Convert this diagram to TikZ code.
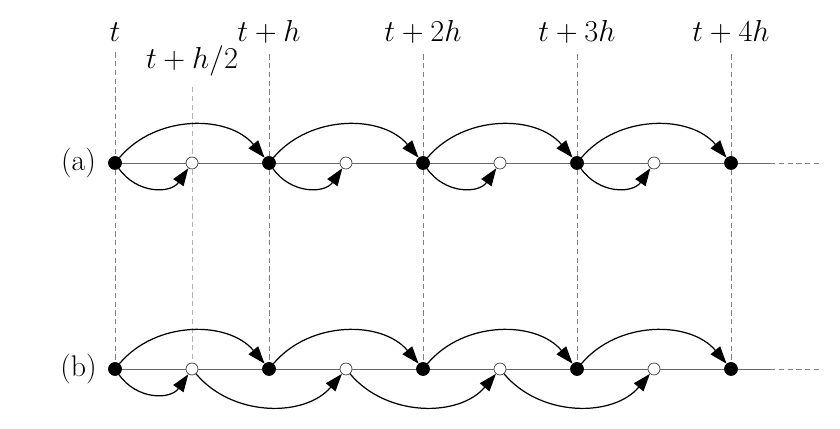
\documentclass[tikz,border=0pt]{standalone}
\usetikzlibrary{arrows.meta}

\begin{document}
\begin{tikzpicture}[
    point/.style={circle, minimum size=2.6mm, inner sep=0},
    full/.style={point, draw=black, fill=black},
    half/.style={point, draw=black!75, fill=white, minimum size=2.4mm, line width=0.4pt},
    time/.style={font=\fontsize{16}{18}\selectfont, inner sep=0.2cm, anchor=base},
    rowlabel/.style={font=\fontsize{17}{19}\selectfont},
    timeline/.style={draw=black!60, line width=0.5pt},
    guide/.style={draw=black!50, dash pattern=on 3pt off 2pt, line width=0.5pt},
    guideh/.style={guide, draw=black!30},
    arrow/.style={line width=0.7pt, -{Triangle[length=10pt,width=7pt]}},
    jump/.style={arrow, bend left=50},
    halfjump/.style={arrow, bend right=55, looseness=1.15},
    lowjump/.style={arrow, bend right=50}
  ]
  \useasboundingbox (0,0) rectangle (16.8,8.58);

  % times
  \node[time] (l0) at (2.30,7.74) {$t$};
  \node[time] (lh) at (3.84,7.20) {$t + h/2$};
  \node[time] (l1) at (5.38,7.74) {$t + h$};
  \node[time] (l2) at (8.46,7.74) {$t + 2h$};
  \node[time] (l3) at (11.54,7.74) {$t + 3h$};
  \node[time] (l4) at (14.62,7.74) {$t + 4h$};

  % row (a)
  \node[rowlabel] (la) at (1.57,5.32) {(a)};
  \node[full] (a0) at (2.30,5.32) {};
  \node[half] (ah0) at (3.84,5.32) {};
  \node[full] (a1) at (5.38,5.32) {};
  \node[half] (ah1) at (6.92,5.32) {};
  \node[full] (a2) at (8.46,5.32) {};
  \node[half] (ah2) at (10.00,5.32) {};
  \node[full] (a3) at (11.54,5.32) {};
  \node[half] (ah3) at (13.08,5.32) {};
  \node[full] (a4) at (14.62,5.32) {};
  \coordinate (aend) at (15.40,5.32);
  \coordinate (aout) at (16.40,5.32);

  % row (b)
  \node[rowlabel] (lb) at (1.57,1.20) {(b)};
  \node[full] (b0) at (2.30,1.20) {};
  \node[half] (bh0) at (3.84,1.20) {};
  \node[full] (b1) at (5.38,1.20) {};
  \node[half] (bh1) at (6.92,1.20) {};
  \node[full] (b2) at (8.46,1.20) {};
  \node[half] (bh2) at (10.00,1.20) {};
  \node[full] (b3) at (11.54,1.20) {};
  \node[half] (bh3) at (13.08,1.20) {};
  \node[full] (b4) at (14.62,1.20) {};
  \coordinate (bend) at (15.40,1.20);
  \coordinate (bout) at (16.40,1.20);

  % guides
  \draw[guide] (l0) -- (a0) -- (b0);
  \draw[guideh] (lh) -- (ah0) -- (bh0);
  \draw[guide] (l1) -- (a1) -- (b1);
  \draw[guide] (l2) -- (a2) -- (b2);
  \draw[guide] (l3) -- (a3) -- (b3);
  \draw[guide] (l4) -- (a4) -- (b4);

  % time lines
  \draw[timeline] (a0) -- (ah0) -- (a1) -- (ah1) -- (a2) -- (ah2) -- (a3) -- (ah3) -- (a4) -- (aend);
  \draw[timeline, guide] (aend) -- (aout);
  \draw[timeline] (b0) -- (bh0) -- (b1) -- (bh1) -- (b2) -- (bh2) -- (b3) -- (bh3) -- (b4) -- (bend);
  \draw[timeline, guide] (bend) -- (bout);

  % steps (a)
  \draw (a0) edge[jump] (a1) edge[halfjump] (ah0);
  \draw (a1) edge[jump] (a2) edge[halfjump] (ah1);
  \draw (a2) edge[jump] (a3) edge[halfjump] (ah2);
  \draw (a3) edge[jump] (a4) edge[halfjump] (ah3);

  % steps (b)
  \draw (b0) edge[jump] (b1) edge[halfjump] (bh0);
  \draw (b1) edge[jump] (b2);
  \draw (b2) edge[jump] (b3);
  \draw (b3) edge[jump] (b4);
  \draw (bh0) edge[lowjump] (bh1);
  \draw (bh1) edge[lowjump] (bh2);
  \draw (bh2) edge[lowjump] (bh3);
\end{tikzpicture}
\end{document}
